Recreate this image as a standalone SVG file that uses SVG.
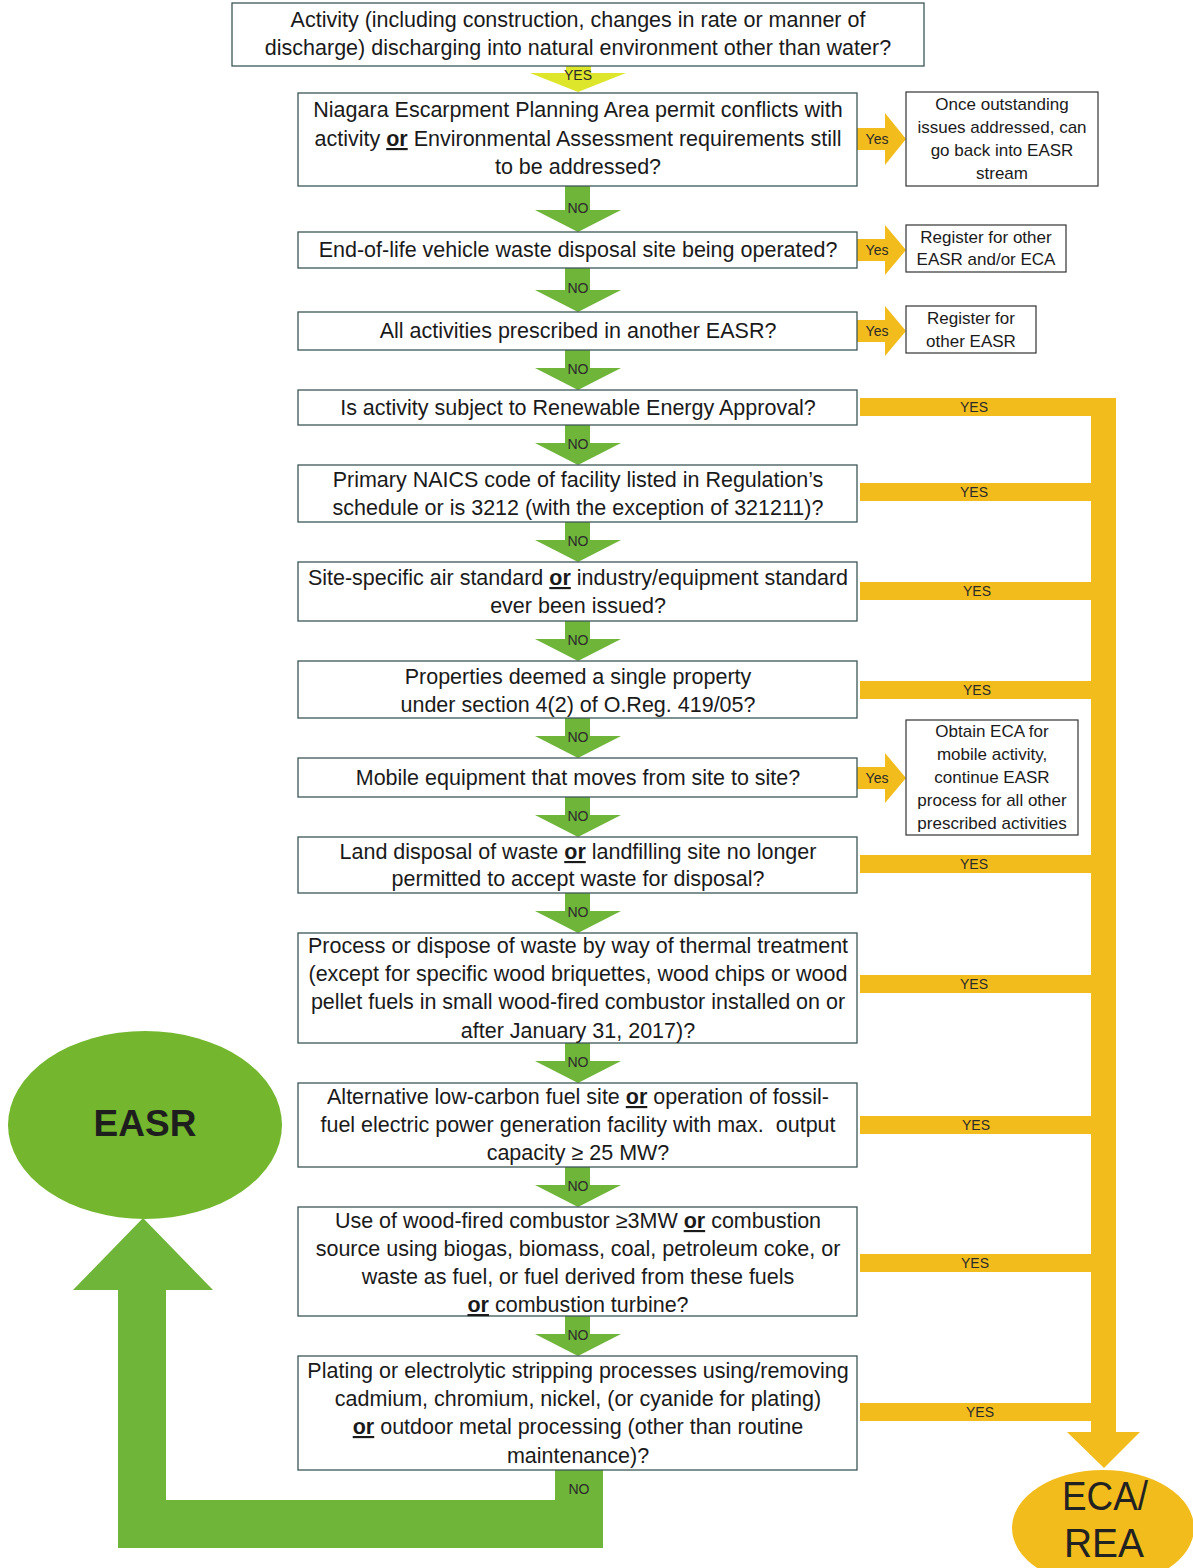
<svg xmlns="http://www.w3.org/2000/svg" width="1193" height="1568" viewBox="0 0 1193 1568">
<style>
.box{fill:#fff;stroke:#3d5656;stroke-width:1.3}
.sbox{fill:#fff;stroke:#333;stroke-width:1.2}
.t{font-family:"Liberation Sans",Arial,sans-serif;font-size:21.5px;fill:#1a1a1a;text-anchor:middle}
.s{font-family:"Liberation Sans",Arial,sans-serif;font-size:17px;fill:#1a1a1a;text-anchor:middle}
.lab{font-family:"Liberation Sans",Arial,sans-serif;font-size:14px;fill:#2a2a2a;text-anchor:middle}
.u{font-weight:bold;text-decoration:underline}
.g{fill:#6fb53a}
.y{fill:#f2bd1c}
.lime{fill:#dde62a}
</style>
<rect width="1193" height="1568" fill="#fff"/>

<g id="connectors">
  <polygon class="lime" points="566,66 591,66 591,73 626,73 578,92 530,73 566,73"/>
  <text class="lab" x="578" y="80">YES</text>
  <polygon class="g" points="565,186 590,186 590,210 621,210 578,232 535,210 565,210"/>
  <text class="lab" x="578" y="213">NO</text>
  <polygon class="g" points="565,268 590,268 590,290 621,290 578,312 535,290 565,290"/>
  <text class="lab" x="578" y="293">NO</text>
  <polygon class="g" points="565,350 590,350 590,368 621,368 578,390 535,368 565,368"/>
  <text class="lab" x="578" y="374">NO</text>
  <polygon class="g" points="565,425 590,425 590,443 621,443 578,465 535,443 565,443"/>
  <text class="lab" x="578" y="449">NO</text>
  <polygon class="g" points="565,522 590,522 590,540 621,540 578,562 535,540 565,540"/>
  <text class="lab" x="578" y="546">NO</text>
  <polygon class="g" points="565,621 590,621 590,639 621,639 578,661 535,639 565,639"/>
  <text class="lab" x="578" y="645">NO</text>
  <polygon class="g" points="565,718 590,718 590,736 621,736 578,758 535,736 565,736"/>
  <text class="lab" x="578" y="742">NO</text>
  <polygon class="g" points="565,797 590,797 590,815 621,815 578,837 535,815 565,815"/>
  <text class="lab" x="578" y="821">NO</text>
  <polygon class="g" points="565,893 590,893 590,911 621,911 578,933 535,911 565,911"/>
  <text class="lab" x="578" y="917">NO</text>
  <polygon class="g" points="565,1043 590,1043 590,1061 621,1061 578,1083 535,1061 565,1061"/>
  <text class="lab" x="578" y="1067">NO</text>
  <polygon class="g" points="565,1167 590,1167 590,1185 621,1185 578,1207 535,1185 565,1185"/>
  <text class="lab" x="578" y="1191">NO</text>
  <polygon class="g" points="565,1316 590,1316 590,1334 621,1334 578,1356 535,1334 565,1334"/>
  <text class="lab" x="578" y="1340">NO</text>
  <polygon class="g" points="555,1470 603,1470 603,1548 118,1548 118,1290 73,1290 143,1218 213,1290 166,1290 166,1500 555,1500"/>
  <text class="lab" x="579" y="1494">NO</text>

  <polygon class="y" points="857,128 885,128 885,113 906,139 885,165 885,150 857,150"/>
  <text class="lab" x="877" y="144">Yes</text>
  <polygon class="y" points="857,239 885,239 885,225 906,250 885,275 885,261 857,261"/>
  <text class="lab" x="877" y="255">Yes</text>
  <polygon class="y" points="857,320 885,320 885,306 906,331 885,356 885,342 857,342"/>
  <text class="lab" x="877" y="336">Yes</text>
  <polygon class="y" points="857,767 885,767 885,753 906,778 885,803 885,789 857,789"/>
  <text class="lab" x="877" y="783">Yes</text>

  <polygon class="y" points="860,398 1116,398 1116,1432 1140,1432 1104,1468 1067,1432 1091,1432 1091,416 860,416"/>
  <text class="lab" x="974" y="412">YES</text>
  <rect class="y" x="860" y="483" width="231" height="18"/>
  <text class="lab" x="974" y="497">YES</text>
  <rect class="y" x="860" y="582" width="231" height="18"/>
  <text class="lab" x="977" y="596">YES</text>
  <rect class="y" x="860" y="681" width="231" height="18"/>
  <text class="lab" x="977" y="695">YES</text>
  <rect class="y" x="860" y="855" width="231" height="18"/>
  <text class="lab" x="974" y="869">YES</text>
  <rect class="y" x="860" y="975" width="231" height="18"/>
  <text class="lab" x="974" y="989">YES</text>
  <rect class="y" x="860" y="1116" width="231" height="18"/>
  <text class="lab" x="976" y="1130">YES</text>
  <rect class="y" x="860" y="1254" width="231" height="18"/>
  <text class="lab" x="975" y="1268">YES</text>
  <rect class="y" x="860" y="1403" width="231" height="18"/>
  <text class="lab" x="980" y="1417">YES</text>
</g>

<g id="q1">
  <rect class="box" x="232" y="3" width="692" height="63"/>
  <text class="t" x="578" y="27">Activity (including construction, changes in rate or manner of</text>
  <text class="t" x="578" y="55">discharge) discharging into natural environment other than water?</text>
</g>
<g id="q2">
  <rect class="box" x="298" y="93" width="559" height="93"/>
  <text class="t" x="578" y="117">Niagara Escarpment Planning Area permit conflicts with</text>
  <text class="t" x="578" y="146">activity <tspan class="u">or</tspan> Environmental Assessment requirements still</text>
  <text class="t" x="578" y="174">to be addressed?</text>
</g>
<g id="n1">
  <rect class="sbox" x="906" y="92" width="192" height="94"/>
  <text class="s" x="1002" y="110">Once outstanding</text>
  <text class="s" x="1002" y="133">issues addressed, can</text>
  <text class="s" x="1002" y="156">go back into EASR</text>
  <text class="s" x="1002" y="179">stream</text>
</g>
<g id="q3">
  <rect class="box" x="298" y="232" width="559" height="36"/>
  <text class="t" x="578" y="257">End-of-life vehicle waste disposal site being operated?</text>
</g>
<g id="n2">
  <rect class="sbox" x="906" y="225" width="160" height="47"/>
  <text class="s" x="986" y="243">Register for other</text>
  <text class="s" x="986" y="265">EASR and/or ECA</text>
</g>
<g id="q4">
  <rect class="box" x="298" y="312" width="559" height="38"/>
  <text class="t" x="578" y="338">All activities prescribed in another EASR?</text>
</g>
<g id="n3">
  <rect class="sbox" x="906" y="306" width="130" height="47"/>
  <text class="s" x="971" y="324">Register for</text>
  <text class="s" x="971" y="347">other EASR</text>
</g>
<g id="q5">
  <rect class="box" x="298" y="390" width="559" height="35"/>
  <text class="t" x="578" y="415">Is activity subject to Renewable Energy Approval?</text>
</g>
<g id="q6">
  <rect class="box" x="298" y="465" width="559" height="57"/>
  <text class="t" x="578" y="487">Primary NAICS code of facility listed in Regulation’s</text>
  <text class="t" x="578" y="515">schedule or is 3212 (with the exception of 321211)?</text>
</g>
<g id="q7">
  <rect class="box" x="298" y="562" width="559" height="59"/>
  <text class="t" x="578" y="585">Site-specific air standard <tspan class="u">or</tspan> industry/equipment standard</text>
  <text class="t" x="578" y="613">ever been issued?</text>
</g>
<g id="q8">
  <rect class="box" x="298" y="661" width="559" height="57"/>
  <text class="t" x="578" y="684">Properties deemed a single property</text>
  <text class="t" x="578" y="712">under section 4(2) of O.Reg. 419/05?</text>
</g>
<g id="q9">
  <rect class="box" x="298" y="758" width="559" height="39"/>
  <text class="t" x="578" y="785">Mobile equipment that moves from site to site?</text>
</g>
<g id="n4">
  <rect class="sbox" x="906" y="720" width="172" height="115"/>
  <text class="s" x="992" y="737">Obtain ECA for</text>
  <text class="s" x="992" y="760">mobile activity,</text>
  <text class="s" x="992" y="783">continue EASR</text>
  <text class="s" x="992" y="806">process for all other</text>
  <text class="s" x="992" y="829">prescribed activities</text>
</g>
<g id="q10">
  <rect class="box" x="298" y="837" width="559" height="56"/>
  <text class="t" x="578" y="859">Land disposal of waste <tspan class="u">or</tspan> landfilling site no longer</text>
  <text class="t" x="578" y="886">permitted to accept waste for disposal?</text>
</g>
<g id="q11">
  <rect class="box" x="298" y="933" width="559" height="110"/>
  <text class="t" x="578" y="953">Process or dispose of waste by way of thermal treatment</text>
  <text class="t" x="578" y="981">(except for specific wood briquettes, wood chips or wood</text>
  <text class="t" x="578" y="1009">pellet fuels in small wood-fired combustor installed on or</text>
  <text class="t" x="578" y="1038">after January 31, 2017)?</text>
</g>
<g id="q12">
  <rect class="box" x="298" y="1083" width="559" height="84"/>
  <text class="t" x="578" y="1104">Alternative low-carbon fuel site <tspan class="u">or</tspan> operation of fossil-</text>
  <text class="t" x="578" y="1132">fuel electric power generation facility with max.&#160; output</text>
  <text class="t" x="578" y="1160">capacity ≥ 25 MW?</text>
</g>
<g id="q13">
  <rect class="box" x="298" y="1207" width="559" height="109"/>
  <text class="t" x="578" y="1228">Use of wood-fired combustor ≥3MW <tspan class="u">or</tspan> combustion</text>
  <text class="t" x="578" y="1256">source using biogas, biomass, coal, petroleum coke, or</text>
  <text class="t" x="578" y="1284">waste as fuel, or fuel derived from these fuels</text>
  <text class="t" x="578" y="1312"><tspan class="u">or</tspan> combustion turbine?</text>
</g>
<g id="q14">
  <rect class="box" x="298" y="1356" width="559" height="114"/>
  <text class="t" x="578" y="1378">Plating or electrolytic stripping processes using/removing</text>
  <text class="t" x="578" y="1406">cadmium, chromium, nickel, (or cyanide for plating)</text>
  <text class="t" x="578" y="1434"><tspan class="u">or</tspan> outdoor metal processing (other than routine</text>
  <text class="t" x="578" y="1463">maintenance)?</text>
</g>
<g id="easr">
  <ellipse cx="145" cy="1125" rx="137" ry="94" fill="#74b72e"/>
  <text x="145" y="1136" font-family="'Liberation Sans',Arial,sans-serif" font-size="37" font-weight="bold" fill="#1e1e1e" text-anchor="middle">EASR</text>
</g>
<g id="eca">
  <ellipse cx="1103" cy="1528" rx="91" ry="58" fill="#f2bd1c"/>
  <text x="1105" y="1510" font-family="'Liberation Sans',Arial,sans-serif" font-size="40" fill="#222" text-anchor="middle" textLength="86" lengthAdjust="spacingAndGlyphs">ECA/</text>
  <text x="1104" y="1557" font-family="'Liberation Sans',Arial,sans-serif" font-size="40" fill="#222" text-anchor="middle" textLength="80" lengthAdjust="spacingAndGlyphs">REA</text>
</g>
</svg>
